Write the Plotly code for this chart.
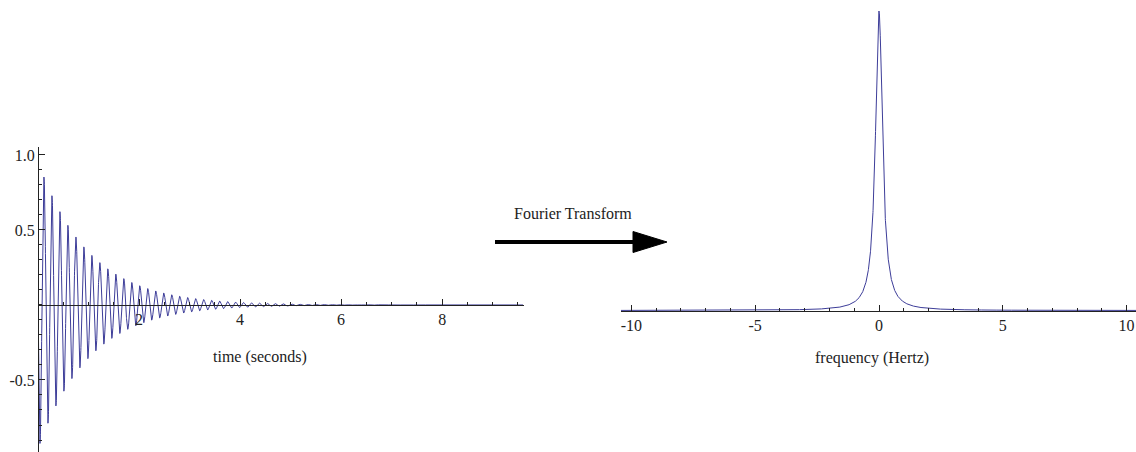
import numpy as np
import plotly.graph_objects as go

# ---- values ----
SIGNAL_AMPLITUDE = 0.96      # envelope at t=0
DECAY_TIME_S = 1.0           # envelope e-folding time
OSC_FREQ_HZ = 6.33           # oscillation frequency (peaks ~0.158 s apart)
T_MAX_S = 9.6                # time span of the left plot
PEAK_HEIGHT = 1.0            # spectrum peak height (arbitrary units)
PEAK_CENTER_HZ = 0.0
PEAK_HWHM_HZ = 0.17          # half width at half maximum
F_SPAN_HZ = (-10.42, 10.38)

time_ticks = [2, 4, 6, 8]
time_ticktext = ["2", "4", "6", "8"]
amp_ticks = [-0.5, 0.5, 1.0]
amp_ticktext = ["-0.5", "0.5", "1.0"]
freq_ticks = [-10, -5, 0, 5, 10]
freq_ticktext = ["-10", "-5", "0", "5", "10"]

t = np.linspace(0, T_MAX_S, 6000)
signal = -SIGNAL_AMPLITUDE * np.exp(-t / DECAY_TIME_S) * np.sin(2 * np.pi * OSC_FREQ_HZ * t)
f = np.linspace(F_SPAN_HZ[0], F_SPAN_HZ[1], 6000)
spectrum = PEAK_HEIGHT / (1 + ((f - PEAK_CENTER_HZ) / PEAK_HWHM_HZ) ** 2)

W, H = 1136, 452
LINE = "rgb(61,61,153)"
AX = "#222222"
FONT = "Liberation Serif"
FS = 16

def px(x):
    return x / W

def py(y):
    return 1 - y / H

fig = go.Figure()
fig.add_trace(go.Scatter(x=t, y=signal, mode="lines", line=dict(color=LINE, width=1),
                         xaxis="x", yaxis="y", hoverinfo="skip"))
fig.add_trace(go.Scatter(x=f, y=spectrum, mode="lines", line=dict(color=LINE, width=1),
                         xaxis="x2", yaxis="y2", hoverinfo="skip"))

tickfont = dict(family=FONT, size=FS, color="#222222")

fig.update_layout(
    width=W, height=H, margin=dict(l=0, r=0, t=0, b=0),
    paper_bgcolor="white", plot_bgcolor="rgba(0,0,0,0)", showlegend=False,
    xaxis=dict(domain=[px(38), px(524)], range=[0, 9.62], anchor="free",
               position=py(305), showline=True, linecolor=AX, linewidth=1,
               showgrid=False, zeroline=False,
               tickmode="array", tickvals=time_ticks, ticktext=time_ticktext,
               ticks="inside", ticklen=6, tickcolor=AX, tickfont=tickfont,
               minor=dict(tickmode="linear", tick0=0, dtick=0.5, ticks="inside",
                          ticklen=3, tickcolor=AX, showgrid=False)),
    yaxis=dict(domain=[0, py(147)], range=[-0.98, 1.053], anchor="free",
               position=px(38), showline=True, linecolor=AX, linewidth=1,
               showgrid=False, zeroline=False,
               tickmode="array", tickvals=amp_ticks, ticktext=amp_ticktext,
               ticks="inside", ticklen=6, tickcolor=AX, tickfont=tickfont,
               minor=dict(tickmode="linear", tick0=0, dtick=0.1, ticks="inside",
                          ticklen=3, tickcolor=AX, showgrid=False)),
    xaxis2=dict(domain=[px(621), 1.0], range=list(F_SPAN_HZ), anchor="free",
                position=py(310.5), showline=True, linecolor=AX, linewidth=1,
                showgrid=False, zeroline=False,
                tickmode="array", tickvals=freq_ticks, ticktext=freq_ticktext,
                ticks="inside", ticklen=6, tickcolor=AX, tickfont=tickfont,
                minor=dict(tickmode="linear", tick0=0, dtick=1, ticks="inside",
                           ticklen=3, tickcolor=AX, showgrid=False)),
    yaxis2=dict(domain=[0, 1], range=[-(H - 310.5) / 299.5, 1 + 11 / 299.5],
                anchor="x2", visible=False),
)

for txt, x, y in [("time (seconds)", 260, 357),
                  ("frequency (Hertz)", 872, 358),
                  ("Fourier Transform", 573, 213)]:
    fig.add_annotation(text=txt, xref="paper", yref="paper",
                       x=px(x), y=py(y), xanchor="center", yanchor="middle",
                       showarrow=False,
                       font=dict(family=FONT, size=FS, color="#222222"))

# arrow decoration
fig.add_shape(type="line", xref="paper", yref="paper",
              x0=px(495), x1=px(636), y0=py(242), y1=py(242),
              line=dict(color="black", width=4))
fig.add_shape(type="path", xref="paper", yref="paper",
              path=f"M {px(633)},{py(231.5)} L {px(667)},{py(242)} L {px(633)},{py(252.5)} Z",
              fillcolor="black", line=dict(color="black", width=1))

fig.write_html("out.html")
